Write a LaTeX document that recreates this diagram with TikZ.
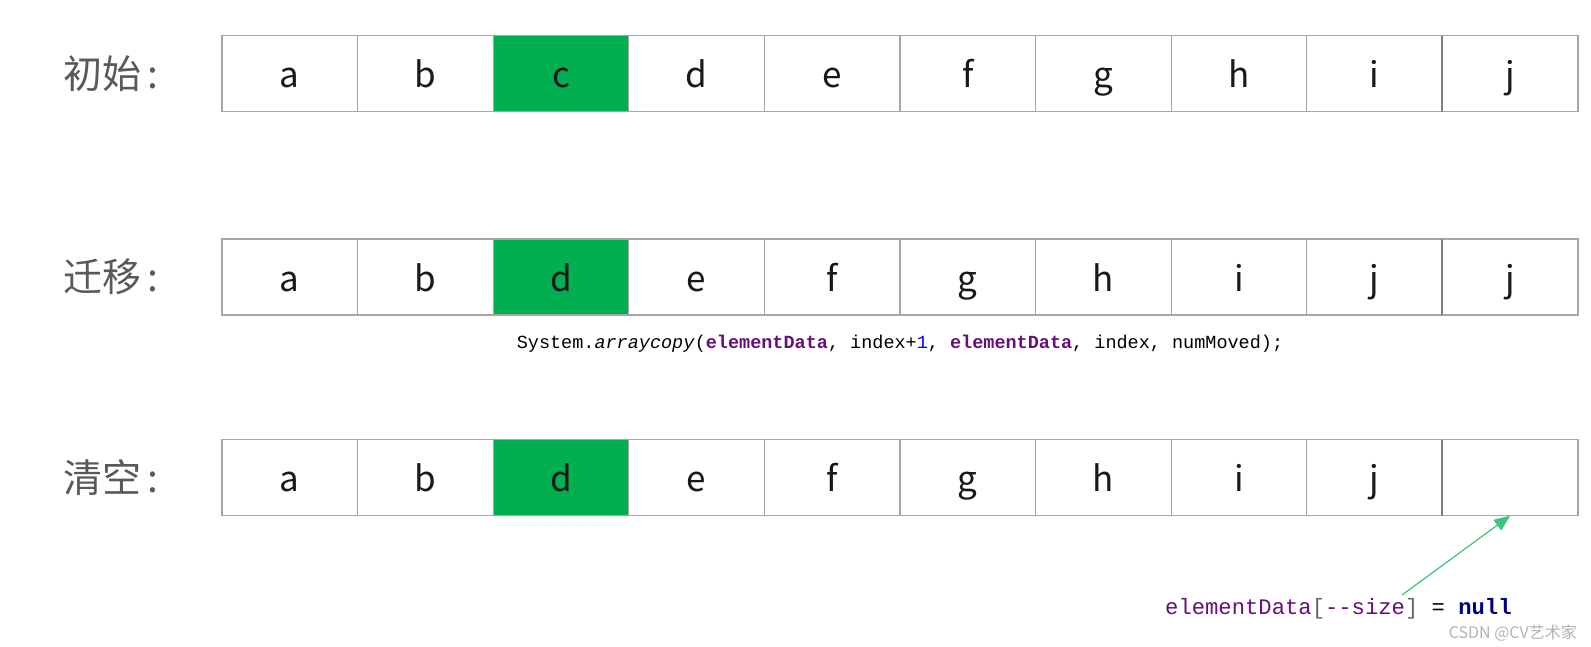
\documentclass[tikz,border=0pt]{standalone}
\usepackage{fontspec}
\usetikzlibrary{arrows.meta}
\newfontfamily\cjk{Noto Sans CJK SC}
\newfontfamily\mono{Liberation Mono}
\definecolor{grn}{HTML}{00B050}
\definecolor{edge}{HTML}{A6A6A6}
\definecolor{lbl}{HTML}{595959}
\definecolor{fld}{HTML}{660E7A}
\definecolor{kw}{HTML}{000080}
\definecolor{num}{HTML}{0000FF}
\definecolor{arw}{HTML}{3CC47C}
\tikzset{
    cell/.style={draw=edge,line width=1.3pt,minimum width=135.6pt,minimum height=76pt,inner sep=0pt,outer sep=0pt},
    letter/.style={anchor=base,inner sep=0pt,font=\cjk\fontsize{35}{35}\selectfont,text=black!90},
    rowlbl/.style={anchor=west,inner sep=0pt,font=\cjk\fontsize{39}{39}\selectfont,text=lbl},
    sepline/.style={draw=black!50,line width=2pt},
    code/.style={inner sep=0pt,font=\mono\fontsize{18.5}{18.5}\selectfont},
    ptr/.style={arw,line width=1.2pt,-{Triangle[length=16pt,width=13pt]}}
}

\begin{document}
\begin{tikzpicture}[x=1pt,y=-1pt]
    \useasboundingbox (0,0) rectangle (1591,646);
    % labels
    \node [rowlbl] (l1) at (63,73.5) {初始\kern6pt:};
    \node [rowlbl] (l2) at (63,277) {迁移\kern6pt:};
    \node [rowlbl] (l3) at (63,477.7) {清空\kern6pt:};
    % the three arrays
    \foreach \t/\f [count=\i] in {a/white,b/white,c/grn,d/white,e/white,f/white,g/white,h/white,i/white,j/white} {
        \node [cell,fill=\f] (r1-\i) at ({222+(\i-0.5)*135.6},73.5) {};
        \node [letter] (t1-\i) at ([yshift=-52pt]r1-\i.north) {\t};
    }
    \foreach \t/\f [count=\i] in {a/white,b/white,d/grn,e/white,f/white,g/white,h/white,i/white,j/white,j/white} {
        \node [cell,fill=\f] (r2-\i) at ({222+(\i-0.5)*135.6},277) {};
        \node [letter] (t2-\i) at ([yshift=-52pt]r2-\i.north) {\t};
    }
    \foreach \t/\f [count=\i] in {a/white,b/white,d/grn,e/white,f/white,g/white,h/white,i/white,j/white,{}/white} {
        \node [cell,fill=\f] (r3-\i) at ({222+(\i-0.5)*135.6},477.7) {};
        \node [letter] (t3-\i) at ([yshift=-52pt]r3-\i.north) {\t};
    }
    \foreach \r in {1,2,3} {
        \draw [sepline] (r\r-9.north east) -- (r\r-9.south east);
    }
    % code
    \node [code] (copy) at (900,344) {System.\textit{arraycopy}(\textcolor{fld}{\textbf{elementData}}, index+\textcolor{num}{1}, \textcolor{fld}{\textbf{elementData}}, index, numMoved);};
    \node [code,anchor=west,font=\mono\fontsize{22.2}{22.2}\selectfont] (clear) at (1165,609) {\textcolor{fld}{elementData}\textcolor{black!60}{[}\textcolor{fld}{-\kern0pt-size}\textcolor{black!60}{]} = \textcolor{kw}{\textbf{null}}};
    \coordinate (tail) at (1402,595);
    \draw [ptr] (tail) -- (r3-10.south);
    \node [anchor=east,inner sep=0pt,font=\cjk\fontsize{16}{16}\selectfont,text=black!30] (csdn) at (1577,633) {CSDN @CV艺术家};
\end{tikzpicture}
\end{document}
